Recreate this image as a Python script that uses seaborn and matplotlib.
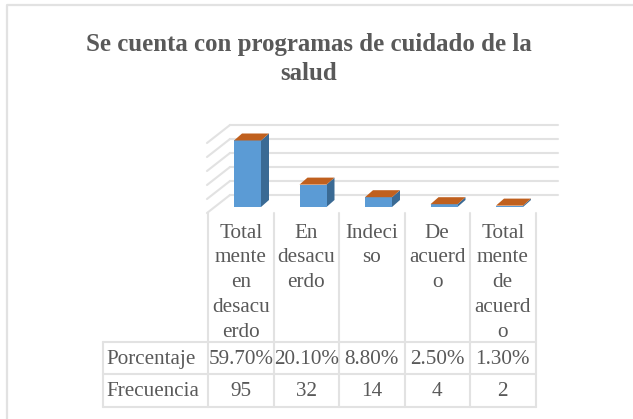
"""Se cuenta con programas de cuidado de la salud: 3D-look bars plus data table."""

import matplotlib
matplotlib.use("Agg")
import matplotlib.pyplot as plt
import pandas as pd
import seaborn as sns

TITLE = "Se cuenta con programas de cuidado de la\nsalud"
CATEGORIES = ["Total\nmente\nen\ndesacu\nerdo", "En\ndesacu\nerdo", "Indeci\nso",
              "De\nacuerd\no", "Total\nmente\nde\nacuerd\no"]
ROW_NAMES = ["Porcentaje", "Frecuencia"]
PERCENT = ["59.70%", "20.10%", "8.80%", "2.50%", "1.30%"]
FREQUENCY = [95, 32, 14, 4, 2]
GRID_TICKS = [0, 20, 40, 60, 80, 100]

W, H = 633, 419
BLUE, BLUE_DARK, ORANGE = "#5B9BD5", "#3A6A94", "#C0601E"
GRID = "#E2E2E2"
TEXT = "#595959"

# pixel layout of the reference
VLINES = [208, 273.5, 339, 404.5, 470, 535.5]
TABLE_LEFT = 103
HEADER_TOP, ROW_TOPS, TABLE_BOTTOM = 213, [342, 374], 407
PX_PER_UNIT = 0.7
PX_PER_CAT = 65.5
BASE_Y = 207
BAR_PX = 27
DEPTH_X, DEPTH_Y = 8, 7

sns.set_theme(style="white")
plt.rcParams["font.family"] = ["Liberation Serif", "DejaVu Serif"]

fig = plt.figure(figsize=(W / 100, H / 100), dpi=100, facecolor="white")

# overlay in pixel coords for frame, grid walls and table
bg = fig.add_axes([0, 0, 1, 1], zorder=0)
bg.set_xlim(0, W)
bg.set_ylim(H, 0)
bg.axis("off")
bg.plot([7, 7, W], [H, 5, 5], color=GRID, lw=1.6)

for line, y in zip(TITLE.split("\n"), [44.5, 74]):
    bg.text(309, y, line, ha="center", va="center", fontsize=17.9, fontweight="bold", color=TEXT)

# walls: the floor line sits 6px under the bars, back wall is 18px higher
for t in GRID_TICKS:
    front_y = 213 - t * PX_PER_UNIT
    back_y = 195 - t * PX_PER_UNIT
    bg.plot([207, 230], [front_y, back_y], color=GRID, lw=1.5)
    bg.plot([230, 558], [back_y, back_y], color=GRID, lw=1.5)

# table grid
for x in VLINES:
    bg.plot([x, x], [HEADER_TOP, TABLE_BOTTOM], color=GRID, lw=1.5)
bg.plot([TABLE_LEFT, TABLE_LEFT], [ROW_TOPS[0], TABLE_BOTTOM], color=GRID, lw=1.5)
for y in ROW_TOPS + [TABLE_BOTTOM]:
    bg.plot([TABLE_LEFT, VLINES[-1]], [y, y], color=GRID, lw=1.5)

# table text
TABLE_FS = 15.2
for i, label in enumerate(CATEGORIES):
    xc = (VLINES[i] + VLINES[i + 1]) / 2
    for j, line in enumerate(label.split("\n")):
        bg.text(xc, 233 + j * 24.8, line, ha="center", va="center", fontsize=TABLE_FS, color=TEXT)
    bg.text(xc, 359, PERCENT[i], ha="center", va="center", fontsize=TABLE_FS, color=TEXT)
    bg.text(xc, 391, str(FREQUENCY[i]), ha="center", va="center", fontsize=TABLE_FS, color=TEXT)
for name, y in zip(ROW_NAMES, [359, 391]):
    bg.text(106, y, name, ha="left", va="center", fontsize=TABLE_FS, color=TEXT)

# bars on their own transparent axes, category spacing matches the table
x0 = 247.5 - PX_PER_CAT / 2
ax_h = 100 * PX_PER_UNIT
ax = fig.add_axes([x0 / W, 1 - BASE_Y / H, 5 * PX_PER_CAT / W, ax_h / H], zorder=1)
ax.patch.set_alpha(0)

df = pd.DataFrame({"categoria": CATEGORIES, "frecuencia": FREQUENCY})
sns.barplot(data=df, x="categoria", y="frecuencia", color=BLUE, saturation=1,
            width=BAR_PX / PX_PER_CAT, linewidth=0, ax=ax, zorder=3)
ax.set_xlim(-0.5, 4.5)
ax.set_ylim(0, 100)
ax.axis("off")

dx = DEPTH_X / PX_PER_CAT
dy = DEPTH_Y / PX_PER_UNIT
hw = BAR_PX / PX_PER_CAT / 2
for i, v in enumerate(FREQUENCY):
    ax.fill([i + hw, i + hw + dx, i + hw + dx, i + hw], [0, dy, v + dy, v],
            color=BLUE_DARK, lw=0, zorder=2, clip_on=False)
    ax.fill([i - hw, i + hw, i + hw + dx, i - hw + dx], [v, v, v + dy, v + dy],
            color=ORANGE, lw=0, zorder=4, clip_on=False)

fig.savefig("out.png", dpi=100)
